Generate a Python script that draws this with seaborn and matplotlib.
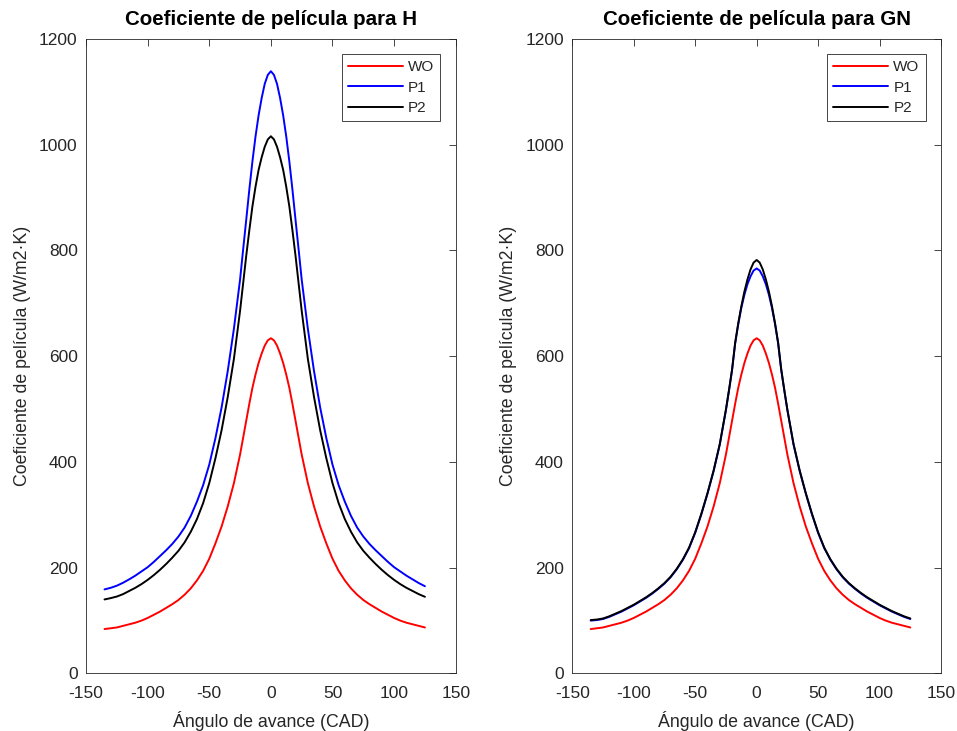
import matplotlib
matplotlib.use("Agg")
import matplotlib.pyplot as plt
import seaborn as sns
import pandas as pd

# ---- data ----
angle = [-135, -130, -125, -120, -115, -110, -105, -100, -95, -90, -85, -80, -75, -70,
         -65, -60, -55, -50, -45, -40, -35, -30, -25,
         -22.5, -20, -17.5, -15, -12.5, -10, -7.5, -5, -2.5, 0, 2.5, 5, 7.5, 10, 12.5,
         15, 17.5, 20, 22.5,
         25, 30, 35, 40, 45, 50, 55, 60, 65, 70, 75, 80, 85, 90, 95, 100, 105, 110,
         115, 120, 125]

wo = [84, 85.5, 87, 90, 93, 96, 100, 105, 111, 117, 124, 131, 139, 149,
      161, 176, 194, 217, 246, 278, 316, 360, 414,
      446, 478, 510, 540, 565, 587, 605, 620, 630, 634, 630, 620, 605, 587, 565,
      540, 510, 478, 446,
      414, 360, 316, 278, 246, 217, 194, 176, 161, 149, 139, 131, 124, 117, 111, 105, 100, 96,
      93, 90, 87]

h_p1 = [159, 162, 166, 171.5, 178, 185, 193, 201, 211, 222, 233, 245, 259, 276,
        298, 325, 356, 395, 445, 503, 572, 652, 745,
        802, 858, 915, 968, 1015, 1055, 1088, 1115, 1132, 1139, 1132, 1115, 1088, 1055, 1015,
        968, 915, 858, 802,
        745, 652, 572, 503, 445, 395, 356, 325, 298, 276, 259, 245, 233, 222, 211, 201, 193, 185,
        178, 171, 165]

h_p2 = [140, 142.5, 145.5, 150, 156, 162, 169, 177, 186, 196, 207, 219, 232, 248,
        268, 292, 322, 360, 407, 460, 523, 595, 686,
        738, 790, 838, 883, 920, 952, 976, 996, 1010, 1016, 1010, 996, 976, 952, 920,
        883, 838, 790, 738,
        686, 595, 523, 460, 407, 360, 322, 292, 268, 248, 232, 219, 207, 196, 186, 177, 169, 162,
        156, 150, 145]

gn_p1 = [100, 101, 103, 107, 112, 117, 123, 129, 136, 143, 151, 160, 170, 182,
         197, 215, 237, 266, 301, 340, 383, 433, 498,
         535, 574, 624, 660, 691, 716, 736, 751, 762, 766, 762, 751, 736, 716, 691,
         660, 624, 574, 535,
         498, 433, 383, 340, 301, 266, 237, 215, 197, 182, 170, 160, 151, 143, 136, 129, 123, 117,
         112, 107, 103]

gn_p2 = [101, 102, 104, 108, 113, 118, 124, 130, 137, 144, 152, 161, 171, 183,
         198, 216, 238, 267, 302, 341, 384, 434, 499,
         536, 575, 625, 662, 694, 722, 745, 764, 777, 782, 777, 764, 745, 722, 694,
         662, 625, 575, 536,
         499, 434, 384, 341, 302, 267, 238, 216, 198, 183, 171, 161, 152, 144, 137, 130, 124, 118,
         113, 108, 104]

series_names = ["WO", "P1", "P2"]
series_colors = ["#ff0000", "#0000ff", "#000000"]
titles = ["Coeficiente de película para H", "Coeficiente de película para GN"]
xlabel = "Ángulo de avance (CAD)"
ylabel = "Coeficiente de película (W/m2·K)"
xticks = [-150, -100, -50, 0, 50, 100, 150]
yticks = [0, 200, 400, 600, 800, 1000, 1200]

# ---- style ----
sns.set_style("white")
plt.rcParams['font.family'] = ['Liberation Sans', 'DejaVu Sans']
plt.rcParams['axes.unicode_minus'] = False

fig = plt.figure(figsize=(9.57, 7.31), dpi=100)
ax1 = fig.add_axes([0.0899, 0.0787, 0.3863, 0.868])
ax2 = fig.add_axes([0.598, 0.0787, 0.3853, 0.868])

panels = [(ax1, [wo, h_p1, h_p2]), (ax2, [wo, gn_p1, gn_p2])]
dark = "#262626"

for (ax, ys), title in zip(panels, titles):
    for name, col, y in zip(series_names, series_colors, ys):
        df = pd.DataFrame({"angle": angle, "h": y})
        sns.lineplot(data=df, x="angle", y="h", color=col, linewidth=1.4,
                     label=name, ax=ax)
    ax.set_xlim(-150, 150)
    ax.set_ylim(0, 1200)
    ax.set_xticks(xticks)
    ax.set_yticks(yticks)
    ax.tick_params(direction='in', top=True, right=True, length=5, width=0.6,
                   colors=dark, labelsize=12.5)
    ax.tick_params(axis='x', pad=9)
    ax.tick_params(axis='y', pad=6)
    for s in ax.spines.values():
        s.set_color(dark)
        s.set_linewidth(0.6)
        s.set_visible(True)
    ax.set_title(title, fontsize=14.8, fontweight='bold', color='black', pad=10)
    ax.set_xlabel(xlabel, fontsize=12.8, color=dark, labelpad=7)
    ax.set_ylabel(ylabel, fontsize=12.8, color=dark, labelpad=6)
    leg = ax.legend(loc='upper right', fontsize=11, handlelength=3.6,
                    frameon=True, fancybox=False, framealpha=1,
                    borderpad=0.4, labelspacing=0.42, handletextpad=0.33,
                    borderaxespad=1.0)
    leg.get_frame().set_edgecolor(dark)
    leg.get_frame().set_linewidth(0.6)

fig.savefig("out.png", dpi=100)
